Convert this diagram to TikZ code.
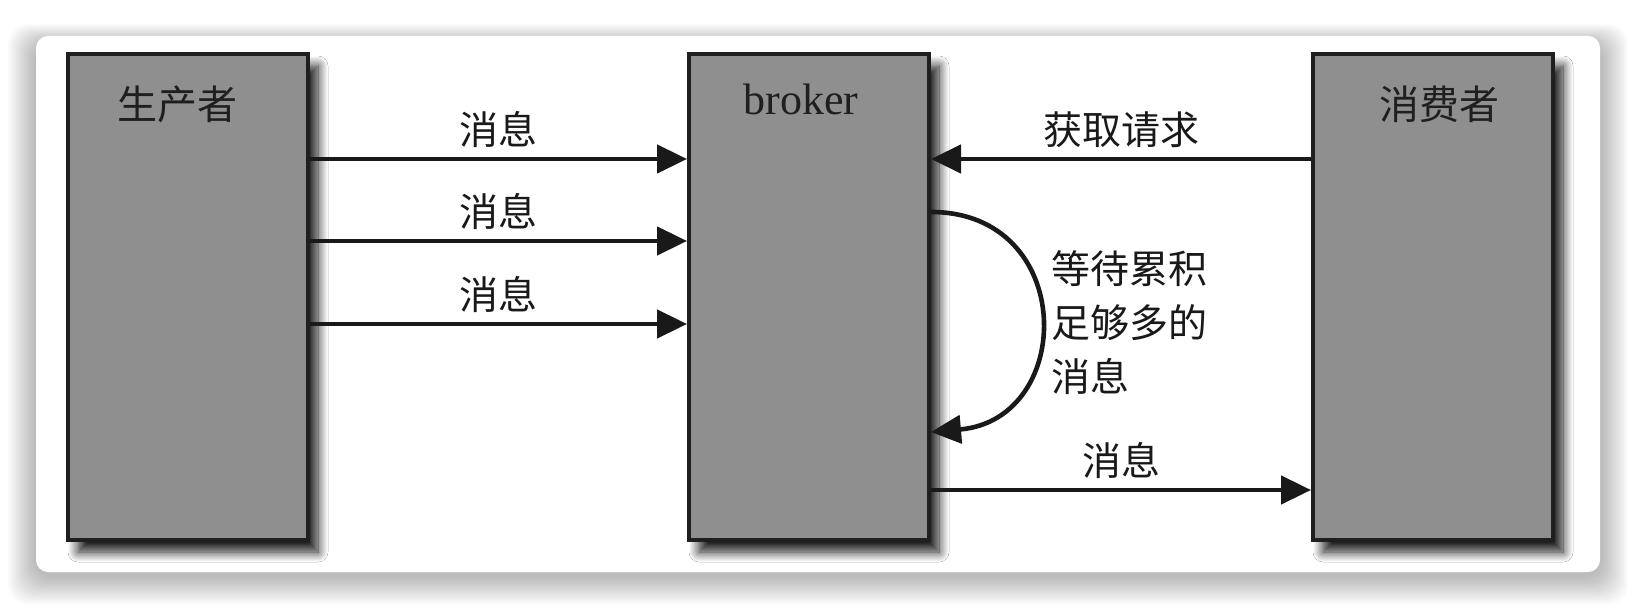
\documentclass[tikz,border=0pt]{standalone}
\usepackage{fontspec}
\setmainfont{Liberation Serif}
\newfontfamily\cjk{Noto Sans CJK SC}
\usetikzlibrary{positioning,arrows.meta,shadows.blur}

\tikzset{
  card/.style={fill=white,draw=none,rounded corners=6pt},
  box/.style={draw=black!88,line width=2pt,fill=black!44,minimum width=120pt,minimum height=243pt,inner sep=0pt,
    blur shadow={shadow xshift=5pt,shadow yshift=-6pt,shadow blur radius=5pt,shadow blur steps=12,shadow opacity=90}},
  boxlabel/.style={font=\fontsize{20}{24}\selectfont,text=black!88},
  lbl/.style={font=\cjk\fontsize{19.5}{27}\selectfont,text=black!90},
  msg/.style={line width=2.3pt,draw=black!90,-{Triangle[length=15pt,width=14pt]}},
}

\begin{document}
\begin{tikzpicture}[x=0.5pt,y=-0.5pt]
  \useasboundingbox (0,0) rectangle (1636,608);
  \fill[white] (0,0) rectangle (1636,608);
  % soft shadow under the card
  \foreach \s in {1,...,14}{
    \fill[black,opacity=0.018,rounded corners=10pt]
      (36-2*\s,36-1.4*\s+8) rectangle (1600+2*\s,572+2*\s+4);
  }
  \path[card] (36,36) rectangle (1600,572);

  % the three parties
  \node[box] (prod) at (188,297) {};
  \node[box] (broker) at (809,297) {};
  \node[box] (cons) at (1433,297) {};
  \node[boxlabel,font=\cjk\fontsize{20}{24}\selectfont] (prodname) at (177,104) {生产者};
  \node[boxlabel,font=\fontsize{22}{24}\selectfont] (brokername) at (801,99) {broker};
  \node[boxlabel,font=\cjk\fontsize{20}{24}\selectfont] (consname) at (1439,104) {消费者};

  % heights of the arrows
  \coordinate (lvA) at (0,159);
  \coordinate (lvB) at (0,241);
  \coordinate (lvC) at (0,324);
  \coordinate (lvD) at (0,490);
  \coordinate (lvE) at (0,212);
  \coordinate (lvF) at (0,432);

  \draw[msg] (prod.east |- lvA) -- node[lbl,above=1pt] (mA) {消息} (broker.west |- lvA);
  \draw[msg] (prod.east |- lvB) -- node[lbl,above=1pt] (mB) {消息} (broker.west |- lvB);
  \draw[msg] (prod.east |- lvC) -- node[lbl,above=1pt] (mC) {消息} (broker.west |- lvC);
  \draw[msg] (cons.west |- lvA) -- node[lbl,above=1pt] (fetch) {获取请求} (broker.east |- lvA);
  \draw[msg] (broker.east |- lvD) -- node[lbl,above=1pt] (mD) {消息} (cons.west |- lvD);
  \draw[msg] (broker.east |- lvE) to[out=0,in=5,looseness=1.7] (broker.east |- lvF);
  \node[lbl,anchor=west,align=left,inner sep=0pt] (wait) at (1051,323) {等待累积\\足够多的\\消息};
\end{tikzpicture}
\end{document}
